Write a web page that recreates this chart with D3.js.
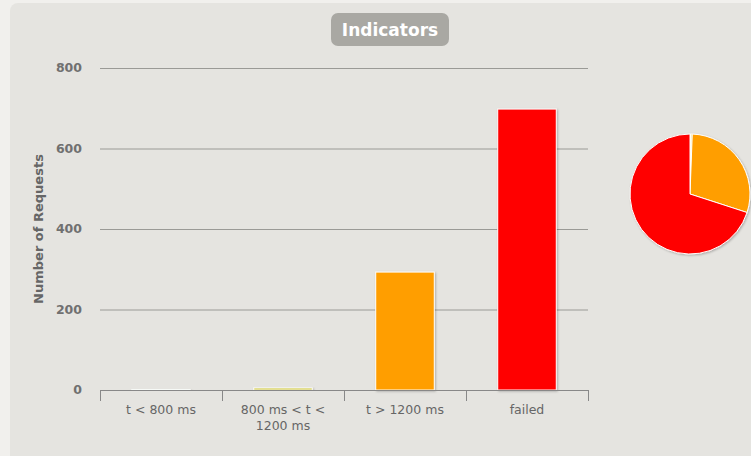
<!DOCTYPE html>
<html><head><meta charset="utf-8">
<script src="https://cdn.jsdelivr.net/npm/d3@7"></script>
<style>body{margin:0;background:#f1f0ed;}svg{display:block;font-family:"DejaVu Sans",Verdana,sans-serif;}</style>
</head><body><svg id="c" width="751" height="456"></svg>
<script>
const categories = ["t < 800 ms", "800 ms < t < 1200 ms", "t > 1200 ms", "failed"];
const values = [1, 5, 293, 698];
const colors = ["#68b65c", "#c9c02a", "#ff9e00", "#ff0000"];
const pieColors = ["#f6f0c0", "#f6e27a", "#ff9e00", "#ff0000"];
const yTicks = [0, 200, 400, 600, 800];
const labelLines = [["t < 800 ms"], ["800 ms < t <", "1200 ms"], ["t > 1200 ms"], ["failed"]];

const svg = d3.select("#c");
const defs = svg.append("defs");
const f = defs.append("filter").attr("id","sh").attr("x","-20%").attr("y","-20%").attr("width","150%").attr("height","150%");
f.append("feDropShadow").attr("dx",1).attr("dy",1).attr("stdDeviation",1).attr("flood-color","#000").attr("flood-opacity",0.25);

svg.append("rect").attr("x",10).attr("y",3).attr("width",760).attr("height",470).attr("rx",8).attr("fill","#e5e4e0");

const x = d3.scaleBand().domain(categories).range([100,588]).paddingInner(0.52).paddingOuter(0.26);
const xEdge = d3.scaleLinear().domain([0,4]).range([100,588]);
const y = d3.scaleLinear().domain([0,800]).range([390,68]);

// grid
svg.append("g").selectAll("line").data(yTicks.slice(1)).join("line")
  .attr("x1",100).attr("x2",588).attr("y1",d=>y(d)+0.5).attr("y2",d=>y(d)+0.5)
  .attr("stroke","#9a9a96").attr("stroke-width",1);

// y labels
svg.append("g").selectAll("text").data(yTicks).join("text")
  .attr("x",82).attr("y",d=>y(d)+4).attr("text-anchor","end")
  .attr("font-size",12.5).attr("font-weight","bold").attr("fill","#707070").text(d=>d);

svg.append("text").attr("transform","translate(43,229) rotate(-90)").attr("text-anchor","middle")
  .attr("font-size",13).attr("font-weight","bold").attr("fill","#666").text("Number of Requests");

// bars
svg.append("g").selectAll("rect").data(values).join("rect")
  .attr("x",(d,i)=>x(categories[i])).attr("width",x.bandwidth())
  .attr("y",d=>y(d)).attr("height",d=>y(0)-y(d))
  .attr("fill",(d,i)=>colors[i]).attr("stroke","#fff").attr("stroke-width",1)
  .attr("filter","url(#sh)");

// x axis
svg.append("line").attr("x1",100).attr("x2",588).attr("y1",390.5).attr("y2",390.5).attr("stroke","#888");
svg.append("g").selectAll("line").data(d3.range(5)).join("line")
  .attr("x1",d=>Math.round(xEdge(d))+0.5).attr("x2",d=>Math.round(xEdge(d))+0.5)
  .attr("y1",390).attr("y2",401).attr("stroke","#888");
const lab = svg.append("g").selectAll("text").data(labelLines).join("text")
  .attr("x",(d,i)=>x(categories[i])+x.bandwidth()/2).attr("y",414)
  .attr("text-anchor","middle").attr("font-size",12.5).attr("fill","#666");
lab.selectAll("tspan").data(d=>d).join("tspan")
  .attr("x",function(){return this.parentNode.getAttribute("x");})
  .attr("dy",(d,i)=>i?16:0).text(d=>d);

// title
svg.append("rect").attr("x",331).attr("y",13).attr("width",118).attr("height",33).attr("rx",7).attr("fill","#a9a8a3");
svg.append("text").attr("x",390).attr("y",36).attr("text-anchor","middle").attr("font-size",17)
  .attr("font-weight","bold").attr("fill","#fff").text("Indicators");

// pie
const pie = d3.pie().sort(null)(values);
const arc = d3.arc().innerRadius(0).outerRadius(60);
svg.append("g").attr("transform","translate(690,194)").attr("filter","url(#sh)")
  .selectAll("path").data(pie).join("path").attr("d",arc)
  .attr("fill",(d,i)=>pieColors[i]).attr("stroke","#fff").attr("stroke-width",1).attr("stroke-linejoin","round");
</script></body></html>
